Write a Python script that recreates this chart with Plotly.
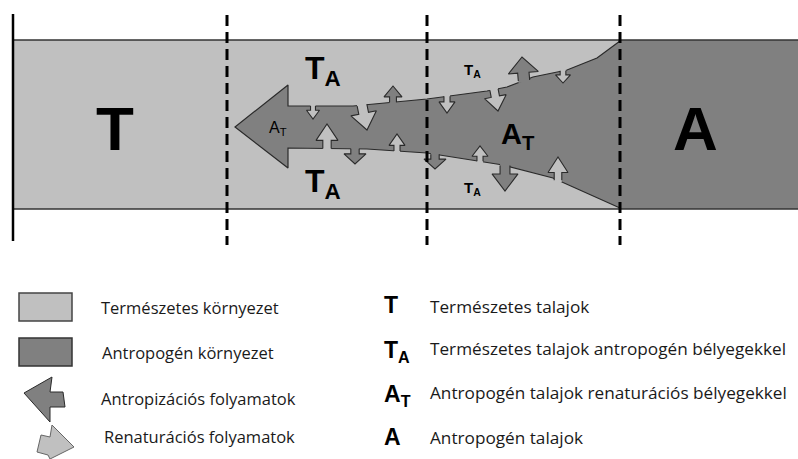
import math
import numpy as np
import plotly.graph_objects as go

W, H = 798, 459

# ---------------- content ----------------
zone_symbols = ["T", "A"]
env_labels = ["Természetes környezet", "Antropogén környezet",
              "Antropizációs folyamatok", "Renaturációs folyamatok"]
soil_symbols = ["T", "T<sub>A</sub>", "A<sub>T</sub>", "A"]
soil_labels = ["Természetes talajok",
               "Természetes talajok antropogén bélyegekkel",
               "Antropogén talajok renaturációs bélyegekkel",
               "Antropogén talajok"]

# ---------------- diagram geometry (pixel space) ----------------
band_x = [13, 798]
band_y = [40, 209]
boundary_x = [227, 427, 620]

upper_edge_x = [288, 353, 427, 487, 507, 533, 567, 597, 620]
upper_edge_y = [106, 106, 99, 91, 87, 77, 70, 58, 41]
lower_edge_x = [288, 367, 427, 453, 503, 553, 620]
lower_edge_y = [148, 149, 153, 157, 165, 178, 208]
head_x = [288, 235, 288]
head_y = [85, 127, 168]

# small process arrows: (edge, kind, base_x, tip_x, tip_y, head_width)
arrows = [
    ("up", "light", 313, 313, 119, 13),
    ("up", "light", 362, 367, 130, 26),
    ("up", "dark", 393, 393, 86, 18),
    ("up", "light", 447, 447, 113, 16),
    ("up", "light", 494, 498, 111, 22),
    ("up", "dark", 524, 522, 57, 30),
    ("up", "light", 563, 563, 83, 15),
    ("lo", "light", 327, 327, 124, 22),
    ("lo", "dark", 355, 355, 164, 22),
    ("lo", "light", 397, 397, 134, 16),
    ("lo", "dark", 435, 435, 169, 22),
    ("lo", "light", 480, 480, 146, 16),
    ("lo", "dark", 505, 505, 191, 26),
    ("lo", "light", 558, 558, 157, 20),
]

antro_icon_x = [24, 52, 50, 63, 65, 50, 50, 24]
antro_icon_y = [393, 377, 392, 392, 407, 407, 422, 393]
renat_icon_x = [74, 52, 50, 41, 37, 48, 50, 74]
renat_icon_y = [447, 425, 437, 435, 452, 455, 459, 447]

LIGHT = "#c0c0c0"
DARK = "#808080"
EDGE = "#2a2a2a"

fig = go.Figure()

# main antropization funnel + arrow
poly_x = head_x + lower_edge_x + upper_edge_x[::-1] + [head_x[0]]
poly_y = head_y + lower_edge_y + upper_edge_y[::-1] + [head_y[0]]
fig.add_trace(go.Scatter(x=poly_x, y=poly_y, mode="lines", fill="toself",
                         fillcolor=DARK, line=dict(width=0), hoverinfo="skip"))
out_x = upper_edge_x[::-1] + head_x + lower_edge_x
out_y = upper_edge_y[::-1] + head_y + lower_edge_y
fig.add_trace(go.Scatter(x=out_x, y=out_y, mode="lines",
                         line=dict(color=EDGE, width=1.2), hoverinfo="skip"))


def arrow_pts(bx, by, tx, ty, wh, ext):
    L = math.hypot(tx - bx, ty - by)
    dx, dy = (tx - bx) / L, (ty - by) / L
    nx, ny = -dy, dx
    ws = wh * 0.38
    ls = L * 0.33
    return [
        (bx + nx * ws / 2 - dx * ext, by + ny * ws / 2 - dy * ext),
        (bx + nx * ws / 2 + dx * ls, by + ny * ws / 2 + dy * ls),
        (bx + nx * wh / 2 + dx * ls, by + ny * wh / 2 + dy * ls),
        (tx, ty),
        (bx - nx * wh / 2 + dx * ls, by - ny * wh / 2 + dy * ls),
        (bx - nx * ws / 2 + dx * ls, by - ny * ws / 2 + dy * ls),
        (bx - nx * ws / 2 - dx * ext, by - ny * ws / 2 - dy * ext),
    ]


for edge, kind, bx, tx, ty, wh in arrows:
    ex, ey = (upper_edge_x, upper_edge_y) if edge == "up" else (lower_edge_x, lower_edge_y)
    by = float(np.interp(bx, ex, ey))
    fill_pts = arrow_pts(bx, by, tx, ty, wh, 2.0)
    line_pts = arrow_pts(bx, by, tx, ty, wh, 0.0)
    fig.add_trace(go.Scatter(x=[p[0] for p in fill_pts] + [fill_pts[0][0]],
                             y=[p[1] for p in fill_pts] + [fill_pts[0][1]],
                             mode="lines", fill="toself",
                             fillcolor=LIGHT if kind == "light" else DARK,
                             line=dict(width=0), hoverinfo="skip"))
    fig.add_trace(go.Scatter(x=[p[0] for p in line_pts], y=[p[1] for p in line_pts],
                             mode="lines", line=dict(color=EDGE, width=1.1), hoverinfo="skip"))

# legend icons
fig.add_trace(go.Scatter(x=antro_icon_x, y=antro_icon_y, mode="lines", fill="toself",
                         fillcolor=DARK, line=dict(color=EDGE, width=1), hoverinfo="skip"))
fig.add_trace(go.Scatter(x=renat_icon_x, y=renat_icon_y, mode="lines", fill="toself",
                         fillcolor=LIGHT, line=dict(color="#666666", width=1), hoverinfo="skip"))

shapes = []
shapes.append(dict(type="rect", xref="x", yref="y", x0=band_x[0], x1=band_x[1], y0=band_y[0], y1=band_y[1],
                   fillcolor=LIGHT, line=dict(width=0), layer="below"))
shapes.append(dict(type="rect", xref="x", yref="y", x0=boundary_x[2], x1=band_x[1], y0=band_y[0], y1=band_y[1],
                   fillcolor=DARK, line=dict(width=0), layer="below"))
for yv in band_y:
    shapes.append(dict(type="line", xref="x", yref="y", x0=band_x[0], x1=band_x[1], y0=yv, y1=yv,
                       line=dict(color="#333333", width=1.5)))
shapes.append(dict(type="line", xref="x", yref="y", x0=13, x1=13, y0=14, y1=241,
                   line=dict(color="black", width=2.5)))
for bxv in boundary_x:
    shapes.append(dict(type="line", xref="x", yref="y", x0=bxv, x1=bxv, y0=15, y1=245,
                       line=dict(color="black", width=3, dash="11px,6px")))
shapes.append(dict(type="rect", xref="x", yref="y", x0=19, x1=72, y0=293, y1=321,
                   fillcolor=LIGHT, line=dict(color="#444444", width=1.5)))
shapes.append(dict(type="rect", xref="x", yref="y", x0=19, x1=72, y0=338, y1=366,
                   fillcolor=DARK, line=dict(color="#333333", width=1.5)))

ann = []
BIG = "Liberation Sans, Arial, sans-serif"
TXT = "Open Sans, sans-serif"


def label(x, y, text, size, family=BIG, xanchor="center", color="black"):
    ann.append(dict(x=x, y=y, xref="x", yref="y", text=text, showarrow=False,
                    xanchor=xanchor, yanchor="middle",
                    font=dict(family=family, size=size, color=color)))


label(115, 128, "<b>%s</b>" % zone_symbols[0], 62)
label(695, 128, "<b>%s</b>" % zone_symbols[1], 62)
label(323, 70, "<b>T<sub>A</sub></b>", 32)
label(323, 183, "<b>T<sub>A</sub></b>", 32)
label(472, 70, "<b>T<sub>A</sub></b>", 15)
label(472, 188, "<b>T<sub>A</sub></b>", 15)
label(278, 128, "A<sub>T</sub>", 16)
label(518, 136, "<b>A<sub>T</sub></b>", 29)

env_y = [307, 352, 398, 436]
env_x = [99, 100, 99, 102]
for lx, ly, t in zip(env_x, env_y, env_labels):
    label(lx, ly, t, 16.5, family=TXT, xanchor="left", color="#1a1a1a")

sym_y = [305, 351, 395, 437]
for sy, s in zip(sym_y, soil_symbols):
    label(382, sy, "<b>%s</b>" % s, 23, xanchor="left")
lab_y = [306, 348, 392, 437]
for ly, t in zip(lab_y, soil_labels):
    label(428, ly, t, 17.2, family=TXT, xanchor="left", color="#1a1a1a")

fig.update_layout(
    width=W, height=H, margin=dict(l=0, r=0, t=0, b=0),
    paper_bgcolor="white", plot_bgcolor="white", showlegend=False,
    xaxis=dict(range=[0, W], visible=False, fixedrange=True),
    yaxis=dict(range=[H, 0], visible=False, fixedrange=True),
    shapes=shapes, annotations=ann,
)
fig.write_html("out.html", config={"displayModeBar": False, "staticPlot": True},
               post_script="document.body.style.margin='0';")
